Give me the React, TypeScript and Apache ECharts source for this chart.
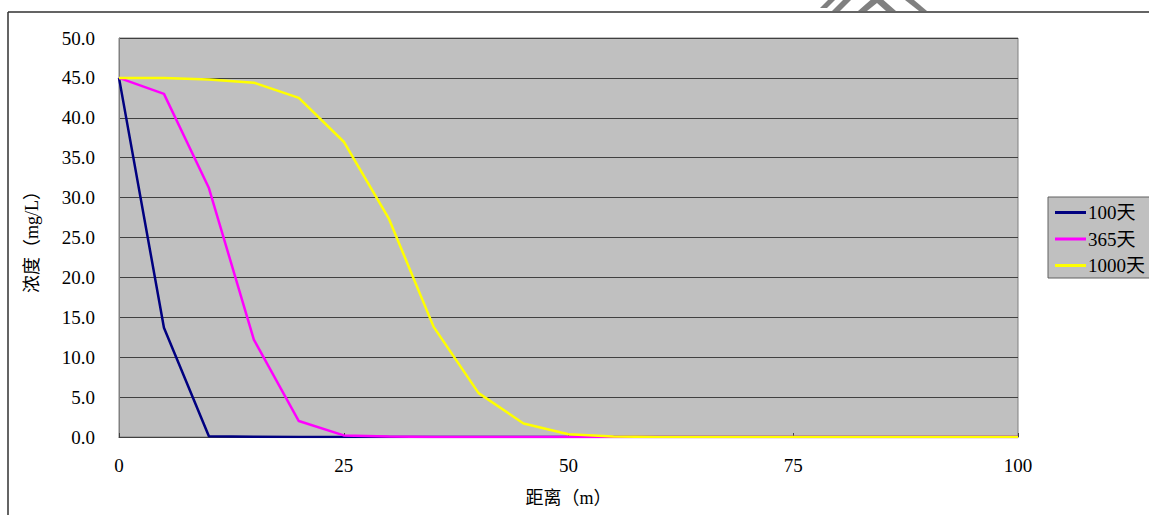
import React, { useEffect, useRef } from "react";
import * as echarts from "echarts";

const distances = [0, 5, 10, 15, 20, 25, 30, 35, 40, 45, 50, 55, 60, 65, 70, 75, 80, 85, 90, 95, 100];
const days100 = [45, 13.7, 0.1, 0.02, 0, 0, 0, 0, 0, 0, 0, 0, 0, 0, 0, 0, 0, 0, 0, 0, 0];
const days365 = [45, 43.0, 31.2, 12.2, 2.0, 0.2, 0.05, 0, 0, 0, 0, 0, 0, 0, 0, 0, 0, 0, 0, 0, 0];
const days1000 = [45, 45, 44.8, 44.4, 42.5, 37.0, 27.4, 13.8, 5.5, 1.7, 0.35, 0.05, 0, 0, 0, 0, 0, 0, 0, 0, 0];
const seriesNames = ["100天", "365天", "1000天"];
const seriesColors = ["#000080", "#ff00ff", "#ffff00"];

const FONT = "Liberation Serif, Noto Sans CJK SC, serif";

export default function App() {
  const ref = useRef<HTMLDivElement>(null);
  useEffect(() => {
    document.body.style.margin = "0";
    const chart = echarts.init(ref.current!, null, { renderer: "svg" });
    const all = [days100, days365, days1000];
    chart.setOption({
      animation: false,
      backgroundColor: "#ffffff",
      textStyle: { fontFamily: FONT },
      grid: {
        left: 119,
        top: 38,
        right: 131,
        bottom: 78,
        show: true,
        backgroundColor: "#c0c0c0",
        borderColor: "#808080",
        borderWidth: 1,
      },
      legend: {
        orient: "vertical",
        left: 1048,
        top: 197,
        backgroundColor: "#c0c0c0",
        borderColor: "#606060",
        borderWidth: 1,
        padding: [3, 20, 0, 7],
        itemWidth: 31,
        itemHeight: 3,
        itemGap: 1.5,
        icon: "rect",
        textStyle: { fontFamily: FONT, fontSize: 19, color: "#000", lineHeight: 25, padding: [0, 0, 0, -3] },
        data: seriesNames,
      },
      xAxis: {
        type: "value",
        min: 0,
        max: 100,
        interval: 25,
        name: "距离（m）",
        nameLocation: "middle",
        nameGap: 52,
        nameTextStyle: { fontFamily: FONT, fontSize: 18, color: "#000" },
        axisLine: { show: true, lineStyle: { color: "#404040", width: 1 } },
        axisTick: { show: true, inside: true, length: 4, lineStyle: { color: "#404040" } },
        axisLabel: { fontFamily: FONT, fontSize: 19, color: "#000", margin: 19 },
        splitLine: { show: false },
      },
      yAxis: {
        type: "value",
        min: 0,
        max: 50,
        interval: 5,
        name: "浓度（mg/L）",
        nameLocation: "middle",
        nameGap: 78,
        nameRotate: 90,
        nameTextStyle: { fontFamily: FONT, fontSize: 18, color: "#000" },
        axisLine: { show: true, lineStyle: { color: "#808080", width: 1 } },
        axisTick: { show: false },
        axisLabel: {
          fontFamily: FONT,
          fontSize: 19,
          color: "#000",
          margin: 24,
          formatter: (v: number) => v.toFixed(1),
        },
        splitLine: { show: true, lineStyle: { color: "#404040", width: 1 } },
      },
      series: seriesNames.map((name, i) => ({
        name,
        type: "line",
        data: distances.map((d, j) => [d, all[i][j]]),
        showSymbol: false,
        symbol: "none",
        color: seriesColors[i],
        lineStyle: { color: seriesColors[i], width: 2.5 },
        z: 2 + i,
      })),
      graphic: [
        { type: "line", shape: { x1: 8, y1: 12, x2: 1149, y2: 12 }, style: { stroke: "#303030", lineWidth: 1.5 } },
        { type: "line", shape: { x1: 8, y1: 12, x2: 8, y2: 515 }, style: { stroke: "#303030", lineWidth: 1.5 } },
        { type: "polygon", shape: { points: [[820, 8], [827, 8], [835, 0], [828, 0]] }, style: { fill: "#808080" } },
        { type: "polygon", shape: { points: [[832, 11], [840, 11], [851, 0], [843, 0]] }, style: { fill: "#808080" } },
        {
          type: "polygon",
          shape: { points: [[858, 11], [867, 11], [877, 3], [886, 11], [896, 11], [880, -3], [874, -3]] },
          style: { fill: "#808080" },
        },
        { type: "polygon", shape: { points: [[905, 0], [914, 0], [927, 11], [919, 11]] }, style: { fill: "#808080" } },
      ],
    });
    return () => chart.dispose();
  }, []);
  return <div ref={ref} style={{ width: 1149, height: 515 }} />;
}
